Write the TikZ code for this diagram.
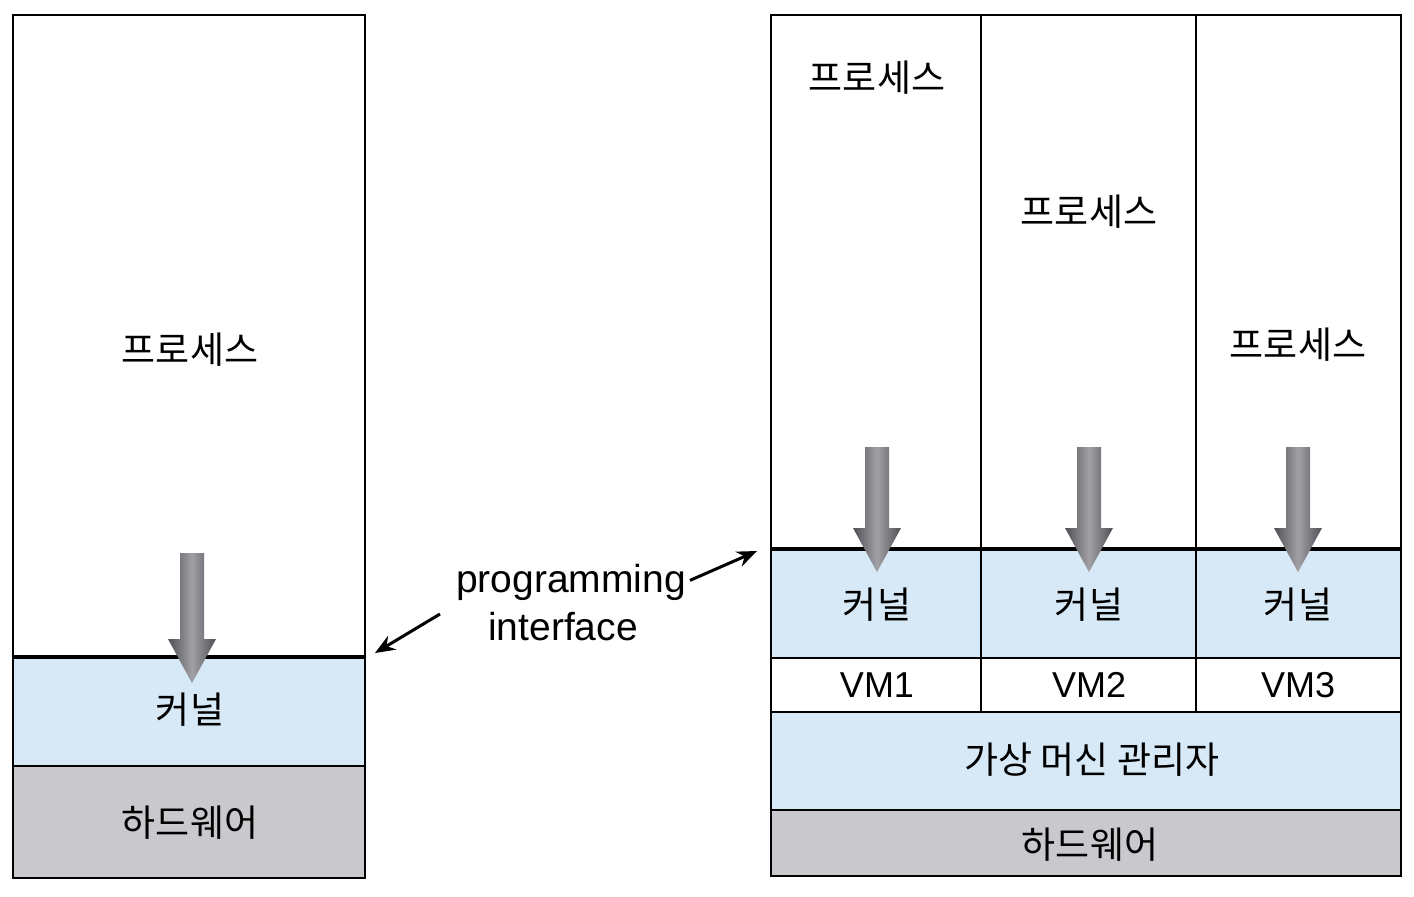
\documentclass[tikz,border=0pt]{standalone}
\usepackage{fontspec}
\setmainfont{Liberation Sans}
\newfontfamily\krfont{Noto Sans CJK KR}
\usetikzlibrary{arrows.meta}
\definecolor{kernelblue}{RGB}{215,233,247}
\definecolor{hwgray}{RGB}{201,201,205}
\definecolor{arrowdark}{RGB}{80,80,86}
\definecolor{arrowlight}{RGB}{160,160,165}
\tikzset{
  layer/.style={draw=black, line width=0.8pt},
  krlabel/.style={font=\krfont\fontsize{18.5}{20}\selectfont, inner sep=0pt},
  vmlabel/.style={font=\fontsize{18}{20}\selectfont, inner sep=0pt},
  callarrow/.style={left color=arrowdark, right color=arrowdark, middle color=arrowlight, draw=none},
  apiarrow/.style={line width=1.5pt, -{Stealth[length=10pt,width=8pt]}},
}
% system call arrow: centre x, top y, tip y
\newcommand{\sysarrow}[3]{\path[callarrow] (#1-12,#2) -- (#1+12,#2) -- (#1+12,#3-44) -- (#1+24,#3-44) -- (#1,#3) -- (#1-24,#3-44) -- (#1-12,#3-44) -- cycle;}
\begin{document}
\begin{tikzpicture}[x=0.5pt,y=0.5pt,yscale=-1]
\useasboundingbox (0,0) rectangle (1414,896);
%Left machine
\fill[kernelblue] (13,657) rectangle (365,766);
\fill[hwgray] (13,766) rectangle (365,878);
\draw[layer] (13,15) rectangle (365,878);
\draw[layer] (13,766) -- (365,766);
\draw[line width=1.8pt] (13,657) -- (365,657);
\sysarrow{192}{553}{683}
\node[krlabel] (lproc) at (190,350) {프로세스};
\node[krlabel] (lkern) at (190,710) {커널};
\node[krlabel] (lhw) at (190,823) {하드웨어};
%Right machine
\fill[kernelblue] (771,549) rectangle (1401,658);
\fill[kernelblue] (771,712) rectangle (1401,810);
\fill[hwgray] (771,810) rectangle (1401,876);
\draw[layer] (771,15) rectangle (1401,876);
\draw[layer] (981,15) -- (981,712);
\draw[layer] (1196,15) -- (1196,712);
\draw[layer] (771,658) -- (1401,658);
\draw[layer] (771,712) -- (1401,712);
\draw[layer] (771,810) -- (1401,810);
\draw[line width=2pt] (771,549) -- (1401,549);
\foreach \cx/\py/\n in {877/78/1, 1089/212/2, 1298/345/3}{
  \sysarrow{\cx}{447}{572}
  \node[krlabel] (proc\n) at (\cx,\py) {프로세스};
  \node[krlabel] (kern\n) at (\cx,605) {커널};
  \node[vmlabel] (vm\n) at (\cx,685) {VM\n};
}
\node[krlabel] (vmm) at (1092,760) {가상 머신 관리자};
\node[krlabel] (rhw) at (1090,845) {하드웨어};
%Programming interface
\node[font=\fontsize{19.5}{22.5}\selectfont, inner sep=0pt] (prog) at (571,582) {programming};
\node[font=\fontsize{19.5}{22.5}\selectfont, inner sep=0pt] (intf) at (563,627) {interface};
\coordinate (lapi) at (375,653);
\coordinate (rapi) at (757,551);
\coordinate (lstart) at (440,614);
\draw[apiarrow, shorten <=2pt] (prog.east) -- (rapi);
\draw[apiarrow] (lstart) -- (lapi);
\end{tikzpicture}
\end{document}
